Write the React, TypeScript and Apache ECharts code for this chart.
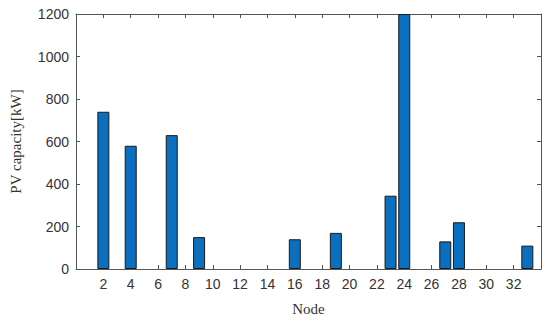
import React, { useEffect, useRef } from "react";
import * as echarts from "echarts";

const nodes: number[] = [2, 4, 7, 9, 16, 19, 23, 24, 27, 28, 33];
const capacity: number[] = [740, 580, 630, 150, 140, 170, 345, 1200, 130, 220, 110];
const xTickLabels: number[] = [2, 4, 6, 8, 10, 12, 14, 16, 18, 20, 22, 24, 26, 28, 30, 32];
const yTickLabels: number[] = [0, 200, 400, 600, 800, 1000, 1200];

const axisColor = "#555555";
const tickFont = "'Liberation Sans', Arial, sans-serif";
const serifFont = "'Liberation Serif', 'DejaVu Serif', serif";

export default function App() {
  const ref = useRef<HTMLDivElement>(null);
  useEffect(() => {
    document.body.style.margin = "0";
    if (!ref.current) return;
    const chart = echarts.init(ref.current, undefined, { renderer: "svg" });
    const commonLine = { show: true, onZero: false, lineStyle: { color: axisColor, width: 1 } };
    chart.setOption({
      animation: false,
      backgroundColor: "#ffffff",
      grid: { left: 72, right: 9, top: 14, bottom: 46.5, containLabel: false },
      xAxis: [
        {
          type: "value",
          min: 0,
          max: 34,
          interval: 2,
          position: "bottom",
          axisLine: commonLine,
          axisTick: { show: true, inside: true, length: 4, lineStyle: { color: axisColor } },
          splitLine: { show: false },
          axisLabel: {
            margin: 8,
            color: "#333333",
            fontSize: 14,
            fontFamily: tickFont,
            formatter: (v: number) => (xTickLabels.includes(v) ? String(v) : ""),
          },
          name: "Node",
          nameLocation: "middle",
          nameGap: 32,
          nameTextStyle: { fontFamily: serifFont, fontSize: 15, color: "#333333" },
        },
        {
          type: "value",
          min: 0,
          max: 34,
          interval: 2,
          position: "top",
          axisLine: commonLine,
          axisTick: { show: true, inside: true, length: 4, lineStyle: { color: axisColor } },
          axisLabel: { show: false },
          splitLine: { show: false },
        },
      ],
      yAxis: [
        {
          type: "value",
          min: 0,
          max: 1200,
          interval: 200,
          position: "left",
          axisLine: commonLine,
          axisTick: { show: true, inside: true, length: 4, lineStyle: { color: axisColor } },
          splitLine: { show: false },
          axisLabel: {
            margin: 7,
            color: "#333333",
            fontSize: 14,
            fontFamily: tickFont,
            formatter: (v: number) => (yTickLabels.includes(v) ? String(v) : ""),
          },
          name: "PV capacity[kW]",
          nameLocation: "middle",
          nameGap: 53,
          nameTextStyle: { fontFamily: serifFont, fontSize: 15, color: "#333333" },
        },
        {
          type: "value",
          min: 0,
          max: 1200,
          interval: 200,
          position: "right",
          axisLine: commonLine,
          axisTick: { show: true, inside: true, length: 4, lineStyle: { color: axisColor } },
          axisLabel: { show: false },
          splitLine: { show: false },
        },
      ],
      series: [
        {
          type: "bar",
          xAxisIndex: 0,
          yAxisIndex: 0,
          barWidth: 12,
          data: nodes.map((n, i) => [n, capacity[i]]),
          itemStyle: { color: "#0A6FBF", borderColor: "#1a1a1a", borderWidth: 1 },
        },
      ],
    });
    return () => chart.dispose();
  }, []);
  return <div ref={ref} style={{ width: 550, height: 321 }} />;
}
